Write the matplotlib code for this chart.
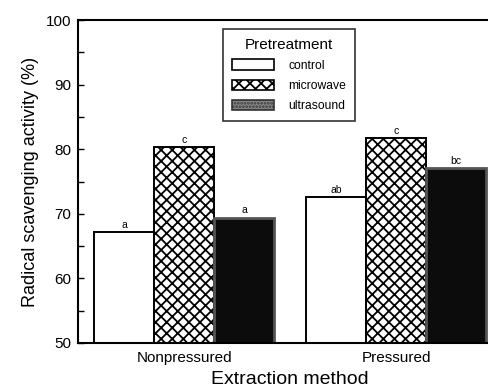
import numpy as np
import matplotlib
matplotlib.use("Agg")
import matplotlib.pyplot as plt
from matplotlib.patches import Patch
from matplotlib.ticker import MultipleLocator

plt.rcParams['font.family'] = ['Liberation Sans', 'DejaVu Sans']
plt.rcParams['hatch.linewidth'] = 1.3

# data
methods = ['Nonpressured', 'Pressured']
treatments = ['control', 'microwave', 'ultrasound']
control = [67.2, 72.6]
microwave = [80.3, 81.7]
ultrasound = [69.4, 77.1]
letters = [['a', 'ab'], ['c', 'c'], ['a', 'bc']]

fig = plt.figure(figsize=(4.89, 3.87), dpi=100)
# axes runs a little past the right edge of the figure, like the scan
ax = fig.add_axes([0.16, 0.114, 0.867, 0.834])

x = np.arange(len(methods))
w = 0.283
series = [control, microwave, ultrasound]
styles = [
    dict(facecolor='white', edgecolor='black', hatch=None, linewidth=1.4),
    dict(facecolor='white', edgecolor='black', hatch='xxx', linewidth=1.4),
    dict(facecolor='#0c0c0c', edgecolor='#555555', hatch=None, linewidth=2.0),
]

for i, (vals, st) in enumerate(zip(series, styles)):
    pos = x + (i - 1) * w
    bars = ax.bar(pos, [v - 50 for v in vals], w, bottom=50, **st)
    for b, v, lab in zip(bars, vals, letters[i]):
        ax.text(b.get_x() + b.get_width() / 2, v + 0.35, lab, ha='center', va='bottom', fontsize=7.5)

ax.set_ylim(50, 100)
ax.set_xlim(-0.5, 1.5)
ax.yaxis.set_major_locator(MultipleLocator(10))
ax.yaxis.set_minor_locator(MultipleLocator(5))
ax.tick_params(axis='y', which='both', direction='in', length=4, width=1, labelsize=11, pad=5)
ax.tick_params(axis='x', length=0, labelsize=11, pad=6)
ax.set_xticks(x)
ax.set_xticklabels(methods)
ax.spines['right'].set_visible(False)
for s in ['left', 'top', 'bottom']:
    ax.spines[s].set_linewidth(1.5)

ax.set_ylabel('Radical scavenging activity (%)', fontsize=13, labelpad=5)
ax.set_xlabel('Extraction method', fontsize=14, labelpad=4)

handles = [Patch(facecolor='white', edgecolor='black', linewidth=1.2),
           Patch(facecolor='white', edgecolor='black', hatch='xxx', linewidth=1.2),
           Patch(facecolor='#8a8a8a', edgecolor='#333333', hatch='.....', linewidth=1.2)]
leg = ax.legend(handles, treatments, title='Pretreatment', loc='upper left',
                bbox_to_anchor=(0.342, 0.972), borderaxespad=0, fontsize=8.7,
                title_fontsize=11, frameon=True, fancybox=False, edgecolor='black',
                handlelength=3.5, handleheight=0.95, labelspacing=0.65, borderpad=0.7,
                handletextpad=1.2)
leg.get_frame().set_linewidth(1.2)

fig.savefig('out.png', dpi=100)
